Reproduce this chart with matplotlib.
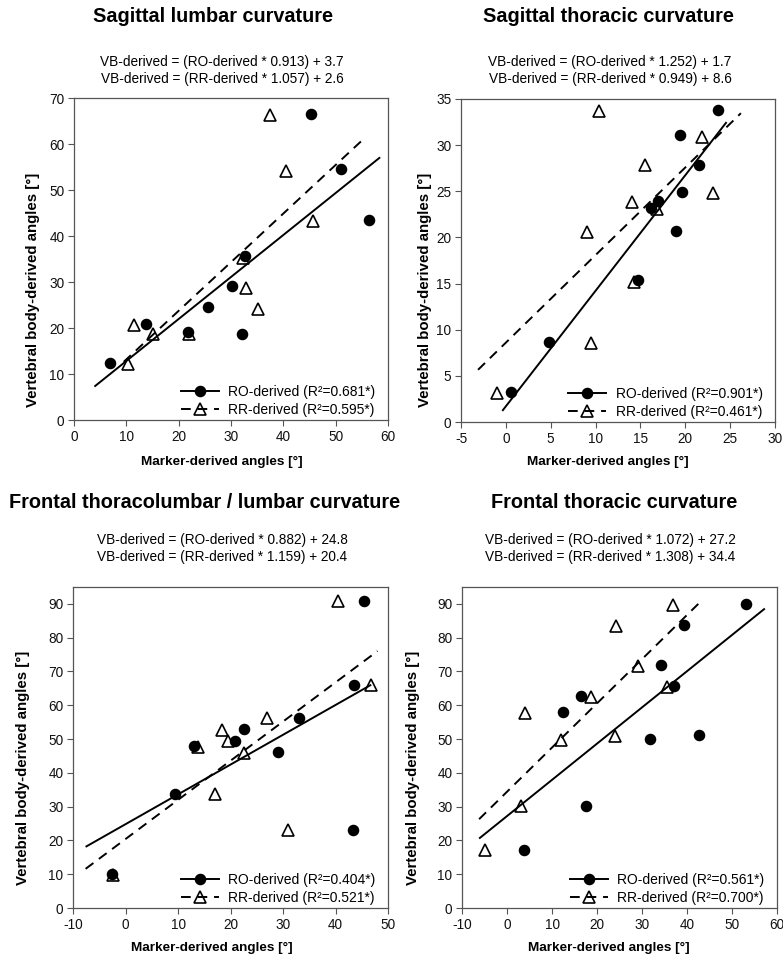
import matplotlib
matplotlib.use('Agg')
import matplotlib.pyplot as plt

plt.rcParams['font.family'] = ['Liberation Sans', 'DejaVu Sans']
plt.rcParams['axes.unicode_minus'] = False

# ---------------- data ----------------
titles = ["Sagittal lumbar curvature", "Sagittal thoracic curvature",
          "Frontal thoracolumbar / lumbar curvature", "Frontal thoracic curvature"]

ro_slope = [0.913, 1.252, 0.882, 1.072]
ro_int = [3.7, 1.7, 24.8, 27.2]
rr_slope = [1.057, 0.949, 1.159, 1.308]
rr_int = [2.6, 8.6, 20.4, 34.4]
ro_r2 = ["0.681*", "0.901*", "0.404*", "0.561*"]
rr_r2 = ["0.595*", "0.461*", "0.521*", "0.700*"]

# x-extent of the drawn regression lines
ro_line_x = [(3.9, 58.5), (-0.4, 24.6), (-7.6, 46.8), (-6.2, 57.3)]
rr_line_x = [(9.5, 55.1), (-3.1, 26.2), (-7.6, 48.0), (-6.2, 42.9)]

# panel 1: sagittal lumbar
ro_x1 = [6.8, 13.7, 21.7, 25.7, 30.2, 32.6, 32.1, 45.3, 51.1, 56.3]
ro_y1 = [12.3, 20.9, 19.2, 24.5, 29.1, 35.7, 18.8, 66.6, 54.5, 43.4]
rr_x1 = [37.5, 40.5, 45.7, 32.2, 32.8, 35.2, 11.4, 15.0, 21.9, 10.3]
rr_y1 = [66.4, 54.2, 43.3, 35.3, 28.8, 24.2, 20.7, 18.6, 18.8, 12.1]

# panel 2: sagittal thoracic
ro_x2 = [0.6, 4.8, 14.7, 16.2, 17.0, 19.0, 19.4, 19.6, 21.5, 23.7]
ro_y2 = [3.2, 8.7, 15.4, 23.2, 24.0, 20.7, 31.1, 24.9, 27.9, 33.8]
rr_x2 = [-1.0, 10.4, 9.1, 9.5, 14.1, 14.3, 15.5, 16.9, 21.9, 23.1]
rr_y2 = [3.1, 33.7, 20.6, 8.6, 23.8, 15.2, 27.8, 23.1, 30.9, 24.8]

# panel 3: frontal thoracolumbar / lumbar
ro_x3 = [-2.5, 9.4, 13.0, 20.8, 22.6, 29.1, 33.1, 43.5, 43.4, 45.5]
ro_y3 = [10.2, 33.6, 47.9, 49.5, 52.9, 46.3, 56.3, 66.1, 23.2, 91.0]
rr_x3 = [-2.4, 13.8, 18.3, 19.6, 22.5, 17.1, 27.0, 31.0, 40.5, 46.8]
rr_y3 = [9.7, 47.6, 52.8, 49.3, 46.0, 33.6, 56.3, 23.2, 90.8, 66.0]

# panel 4: frontal thoracic
ro_x4 = [3.8, 17.6, 12.5, 16.4, 31.7, 34.2, 37.2, 39.4, 42.7, 53.0]
ro_y4 = [17.3, 30.3, 58.1, 62.7, 50.0, 72.0, 65.8, 83.8, 51.3, 90.0]
rr_x4 = [-5.0, 3.2, 3.9, 12.0, 18.6, 23.9, 24.3, 29.0, 35.5, 36.9]
rr_y4 = [17.1, 30.1, 57.8, 49.6, 62.4, 50.9, 83.6, 71.7, 65.5, 89.8]

ro_xs = [ro_x1, ro_x2, ro_x3, ro_x4]
ro_ys = [ro_y1, ro_y2, ro_y3, ro_y4]
rr_xs = [rr_x1, rr_x2, rr_x3, rr_x4]
rr_ys = [rr_y1, rr_y2, rr_y3, rr_y4]

xlims = [(0, 60), (-5, 30), (-10, 50), (-10, 60)]
ylims = [(0, 70), (0, 35), (0, 95), (0, 95)]
xticks = [list(range(0, 61, 10)), list(range(-5, 31, 5)),
          list(range(-10, 51, 10)), list(range(-10, 61, 10))]
yticks = [list(range(0, 71, 10)), list(range(0, 36, 5)),
          list(range(0, 91, 10)), list(range(0, 91, 10))]

xlabel = "Marker-derived angles [°]"
ylabel = "Vertebral body-derived angles [°]"

# ---------------- layout (pixels) ----------------
W, H = 783, 957
fig = plt.figure(figsize=(W / 100, H / 100), dpi=100)

boxes = [(74, 388, 98, 420), (461, 775, 99, 422), (73, 388, 587, 908), (462, 777, 587, 908)]
title_pos = [(213, 17), (608, 17), (205, 503), (614, 503)]
sub_pos = [(222, 62, 79), (610, 62, 79), (222, 540, 557), (610, 540, 557)]
xlab_pos = [(222, 462), (608, 462), (212, 948), (609, 948)]
ylab_pos = [(33, 290), (425, 290), (23, 768), (413, 768)]

spine_col = '#555555'

def fx(px):
    return px / W

def fy(py):
    return 1 - py / H

for i in range(4):
    l, r, t, b = boxes[i]
    ax = fig.add_axes([fx(l), fy(b), (r - l) / W, (b - t) / H])
    ax.set_xlim(*xlims[i])
    ax.set_ylim(*ylims[i])
    ax.set_xticks(xticks[i])
    ax.set_yticks(yticks[i])
    ax.tick_params(direction='out', length=4, width=0.8, color=spine_col,
                   labelsize=9.8, pad=3, labelcolor='#111111')
    for s in ax.spines.values():
        s.set_color(spine_col)
        s.set_linewidth(0.9)

    x0, x1 = ro_line_x[i]
    ax.plot([x0, x1], [ro_slope[i] * x0 + ro_int[i], ro_slope[i] * x1 + ro_int[i]],
            color='black', lw=1.4, solid_capstyle='butt', zorder=2)
    x0, x1 = rr_line_x[i]
    ax.plot([x0, x1], [rr_slope[i] * x0 + rr_int[i], rr_slope[i] * x1 + rr_int[i]],
            color='black', lw=1.4, dashes=(5, 3.5), zorder=2)

    ax.plot(ro_xs[i], ro_ys[i], 'o', ms=7.3, color='black', zorder=3)
    ax.plot(rr_xs[i], rr_ys[i], '^', ms=8.5, mfc='none', mec='black', mew=1.2, zorder=4)

    h1, = ax.plot([], [], '-o', color='black', lw=1.4, ms=7.3)
    h2, = ax.plot([], [], '^', ls=(0, (5, 3.5)), color='black', lw=1.4, ms=8.5,
                  mfc='none', mec='black', mew=1.2)
    ax.legend([h1, h2], [f"RO-derived (R²={ro_r2[i]})", f"RR-derived (R²={rr_r2[i]})"],
              loc='lower right', frameon=False, fontsize=10, handlelength=2.7,
              handletextpad=0.7, labelspacing=0.3, borderpad=0.1,
              borderaxespad=0.8, bbox_to_anchor=(1.0, -0.03))

    tx, ty = title_pos[i]
    fig.text(fx(tx), fy(ty), titles[i], ha='center', va='center',
             fontsize=14.3, fontweight='bold')
    sx, sy1, sy2 = sub_pos[i]
    fig.text(fx(sx), fy(sy1), f"VB-derived = (RO-derived * {ro_slope[i]:.3f}) + {ro_int[i]}",
             ha='center', va='center', fontsize=9.8)
    fig.text(fx(sx), fy(sy2), f"VB-derived = (RR-derived * {rr_slope[i]:.3f}) + {rr_int[i]}",
             ha='center', va='center', fontsize=9.8)
    lx, ly = xlab_pos[i]
    fig.text(fx(lx), fy(ly), xlabel, ha='center', va='center', fontsize=9.7, fontweight='bold')
    yx, yy = ylab_pos[i]
    fig.text(fx(yx), fy(yy), ylabel, ha='center', va='center', fontsize=10.8,
             fontweight='bold', rotation=90)

fig.savefig('out.png', dpi=100)
